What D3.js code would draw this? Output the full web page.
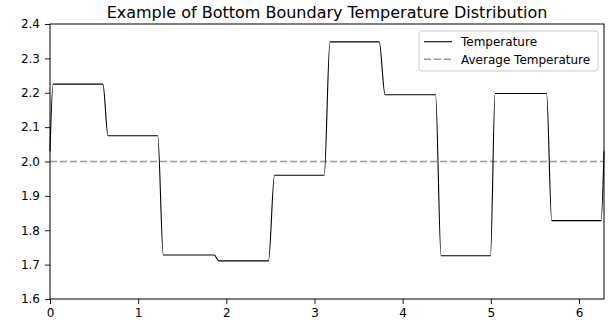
<!DOCTYPE html>
<html>
<head>
<meta charset="utf-8">
<script src="https://cdn.jsdelivr.net/npm/d3@7"></script>
<style>
	body { margin: 0; background: white; }
	text { font-family: "DejaVu Sans", sans-serif; }
</style>
</head>
<body>
<div id="chart"></div>
<script>

// temperature profile (x in radians, value)
var angles = [0, 0.035, 0.600, 0.658, 1.222, 1.285, 1.862, 1.916, 2.478, 2.546,
	3.110, 3.175, 3.734, 3.800, 4.373, 4.435, 4.996, 5.048, 5.632, 5.690, 6.250, 2 * Math.PI]
var temps = [2.03, 2.225, 2.225, 2.075, 2.075, 1.728, 1.728, 1.711, 1.711, 1.960,
	1.960, 2.348, 2.348, 2.194, 2.194, 1.726, 1.726, 2.198, 2.198, 1.828, 1.828, 2.03]
var averageTemp = 2.0

var xTicks = [0, 1, 2, 3, 4, 5, 6]
var yTicks = [1.6, 1.7, 1.8, 1.9, 2.0, 2.1, 2.2, 2.3, 2.4]
var legendNames = ["Temperature", "Average Temperature"]

var data = angles.map(function(a, i) { return {x: a, y: temps[i]} })

var W = 616, H = 325
var margin = {top: 24, right: 12, bottom: 26, left: 50}
var width = W - margin.left - margin.right
var height = H - margin.top - margin.bottom

var svg = d3.select("#chart").append("svg")
	.attr("width", W)
	.attr("height", H)

var chart = svg.append("g")
	.attr("transform", "translate(" + margin.left + ", " + margin.top + ")")

var x = d3.scaleLinear()
	.domain([0, 2 * Math.PI])
	.range([0, width])

var y = d3.scaleLinear()
	.domain([1.6, 2.4])
	.range([height, 0])

// average line (dashed)
chart.append("line")
	.attr("x1", x(0))
	.attr("x2", x(2 * Math.PI))
	.attr("y1", y(averageTemp))
	.attr("y2", y(averageTemp))
	.attr("stroke", "#999")
	.attr("stroke-width", 1.6)
	.attr("stroke-dasharray", "7,3")

var line = d3.line()
	.x(d => x(d.x))
	.y(d => y(d.y))
	.curve(d3.curveMonotoneX)

chart.append("path")
	.datum(data)
	.attr("fill", "none")
	.attr("stroke", "black")
	.attr("stroke-width", 1.1)
	.attr("d", line)

// axes
var xAxis = d3.axisBottom(x)
	.tickValues(xTicks)
	.tickFormat(d3.format("d"))
	.tickSizeInner(5)
	.tickSizeOuter(0)
	.tickPadding(4)

var yAxis = d3.axisLeft(y)
	.tickValues(yTicks)
	.tickFormat(d3.format(".1f"))
	.tickSizeInner(5)
	.tickSizeOuter(0)
	.tickPadding(5)

var xAxisGroup = chart.append("g")
	.attr("transform", "translate(0, " + height + ")")
	.call(xAxis)

var yAxisGroup = chart.append("g")
	.call(yAxis)

chart.selectAll(".domain").remove()
chart.selectAll(".tick text")
	.attr("font-size", "12px")
	.attr("font-family", "DejaVu Sans")
	.attr("fill", "black")
chart.selectAll(".tick line").attr("stroke", "black").attr("stroke-width", 0.9)

// frame
chart.append("rect")
	.attr("x", 0)
	.attr("y", 0)
	.attr("width", width)
	.attr("height", height)
	.attr("fill", "none")
	.attr("stroke", "black")
	.attr("stroke-width", 1)

// title
svg.append("text")
	.attr("x", margin.left + width / 2)
	.attr("y", 17.5)
	.attr("text-anchor", "middle")
	.style("font-size", "16px")
	.text("Example of Bottom Boundary Temperature Distribution")

// legend
var legend = chart.append("g")
	.attr("transform", "translate(" + (width - 185) + ", 7)")

legend.append("rect")
	.attr("x", 0)
	.attr("y", 0)
	.attr("width", 179)
	.attr("height", 40)
	.attr("rx", 3)
	.attr("fill", "white")
	.attr("fill-opacity", 0.8)
	.attr("stroke", "#ccc")
	.attr("stroke-width", 1)

var legendStyles = [
	{color: "black", width: 1.1, dash: null},
	{color: "#999", width: 1.6, dash: "7,3"}
]

legendNames.forEach(function(name, i) {
	var cy = 10.7 + i * 17.6
	legend.append("line")
		.attr("x1", 5)
		.attr("x2", 33)
		.attr("y1", cy)
		.attr("y2", cy)
		.attr("stroke", legendStyles[i].color)
		.attr("stroke-width", legendStyles[i].width)
		.attr("stroke-dasharray", legendStyles[i].dash)

	legend.append("text")
		.attr("x", 42)
		.attr("y", cy + 4.3)
		.style("font-size", "12px")
		.text(name)
})

</script>
</body>
</html>
